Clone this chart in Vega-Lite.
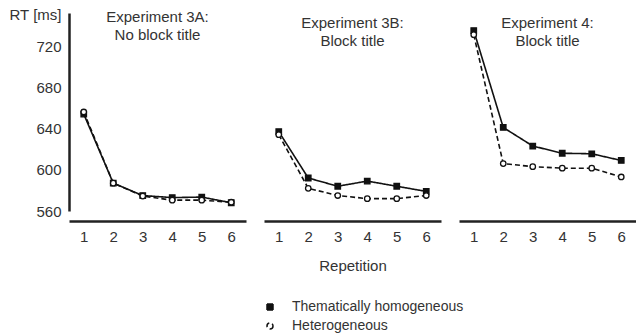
{
  "$schema": "https://vega.github.io/schema/vega-lite/v6.json",
  "padding": {"left": 8, "top": 7, "right": 0, "bottom": 0},
  "spacing": 18,
  "datasets": {
    "rt": [
      {"exp": "3A", "rep": 1, "condition": "Thematically homogeneous", "rt": 654},
      {"exp": "3A", "rep": 2, "condition": "Thematically homogeneous", "rt": 587},
      {"exp": "3A", "rep": 3, "condition": "Thematically homogeneous", "rt": 575},
      {"exp": "3A", "rep": 4, "condition": "Thematically homogeneous", "rt": 573},
      {"exp": "3A", "rep": 5, "condition": "Thematically homogeneous", "rt": 573.5},
      {"exp": "3A", "rep": 6, "condition": "Thematically homogeneous", "rt": 568},
      {"exp": "3A", "rep": 1, "condition": "Heterogeneous", "rt": 656},
      {"exp": "3A", "rep": 2, "condition": "Heterogeneous", "rt": 587},
      {"exp": "3A", "rep": 3, "condition": "Heterogeneous", "rt": 574.5},
      {"exp": "3A", "rep": 4, "condition": "Heterogeneous", "rt": 570.5},
      {"exp": "3A", "rep": 5, "condition": "Heterogeneous", "rt": 570.5},
      {"exp": "3A", "rep": 6, "condition": "Heterogeneous", "rt": 568.5},
      {"exp": "3B", "rep": 1, "condition": "Thematically homogeneous", "rt": 637},
      {"exp": "3B", "rep": 2, "condition": "Thematically homogeneous", "rt": 592},
      {"exp": "3B", "rep": 3, "condition": "Thematically homogeneous", "rt": 584},
      {"exp": "3B", "rep": 4, "condition": "Thematically homogeneous", "rt": 589},
      {"exp": "3B", "rep": 5, "condition": "Thematically homogeneous", "rt": 584},
      {"exp": "3B", "rep": 6, "condition": "Thematically homogeneous", "rt": 579},
      {"exp": "3B", "rep": 1, "condition": "Heterogeneous", "rt": 634},
      {"exp": "3B", "rep": 2, "condition": "Heterogeneous", "rt": 582},
      {"exp": "3B", "rep": 3, "condition": "Heterogeneous", "rt": 575},
      {"exp": "3B", "rep": 4, "condition": "Heterogeneous", "rt": 572},
      {"exp": "3B", "rep": 5, "condition": "Heterogeneous", "rt": 572},
      {"exp": "3B", "rep": 6, "condition": "Heterogeneous", "rt": 575},
      {"exp": "4", "rep": 1, "condition": "Thematically homogeneous", "rt": 735},
      {"exp": "4", "rep": 2, "condition": "Thematically homogeneous", "rt": 641},
      {"exp": "4", "rep": 3, "condition": "Thematically homogeneous", "rt": 623},
      {"exp": "4", "rep": 4, "condition": "Thematically homogeneous", "rt": 616},
      {"exp": "4", "rep": 5, "condition": "Thematically homogeneous", "rt": 615.5},
      {"exp": "4", "rep": 6, "condition": "Thematically homogeneous", "rt": 609},
      {"exp": "4", "rep": 1, "condition": "Heterogeneous", "rt": 731},
      {"exp": "4", "rep": 2, "condition": "Heterogeneous", "rt": 606},
      {"exp": "4", "rep": 3, "condition": "Heterogeneous", "rt": 603},
      {"exp": "4", "rep": 4, "condition": "Heterogeneous", "rt": 601.5},
      {"exp": "4", "rep": 5, "condition": "Heterogeneous", "rt": 601.5},
      {"exp": "4", "rep": 6, "condition": "Heterogeneous", "rt": 593}
    ]
  },
  "config": {
    "font": "Liberation Sans",
    "view": {"stroke": null},
    "axis": {
      "labelFontSize": 15, "labelColor": "#333", "domainColor": "#222", "domainWidth": 2.5,
      "ticks": false, "grid": false, "titleFontSize": 15, "titleFontWeight": "normal", "titleColor": "#333"
    },
    "title": {"fontSize": 15, "fontWeight": "normal", "color": "#333", "lineHeight": 18, "anchor": "middle", "offset": -36},
    "legend": {
      "labelFontSize": 14, "labelColor": "#333", "labelLimit": 0, "padding": 0, "title": null,
      "orient": "none", "legendX": 194, "legendY": 287, "symbolSize": 36, "labelOffset": 15, "rowPadding": 5,
      "symbolStrokeWidth": 1.5
    }
  },
  "hconcat": [
    {
      "width": 177, "height": 198,
      "data": {"name": "rt"},
      "transform": [{"filter": "datum.exp == '3A'"}],
      "title": {"text": ["Experiment 3A:", "No block title"]},
      "encoding": {
        "x": {"field": "rep", "type": "quantitative", "scale": {"domain": [0.5, 6.5]},
              "axis": {"values": [1, 2, 3, 4, 5, 6], "offset": 10, "labelPadding": 8, "title": null}},
        "y": {"field": "rt", "type": "quantitative", "scale": {"domain": [560, 752], "zero": false, "nice": false},
              "axis": {"values": [560, 600, 640, 680, 720], "title": "RT [ms]", "titleAngle": 0, "titleAlign": "right",
                       "titleBaseline": "middle", "titleX": -8, "titleY": 1, "labelPadding": 8}}
      },
      "layer": [
        {"mark": {"type": "line", "strokeWidth": 1.6, "color": "#111"},
         "encoding": {"strokeDash": {"field": "condition", "type": "nominal",
           "scale": {"domain": ["Thematically homogeneous", "Heterogeneous"], "range": [[1, 0], [5, 3]]}}}},
        {"mark": {"type": "point", "filled": true, "stroke": "#111", "strokeWidth": 1.3, "size": 30, "opacity": 1},
         "encoding": {
           "shape": {"field": "condition", "type": "nominal", "scale": {"domain": ["Thematically homogeneous", "Heterogeneous"], "range": ["square", "circle"]}},
           "fill": {"field": "condition", "type": "nominal", "scale": {"domain": ["Thematically homogeneous", "Heterogeneous"], "range": ["#111", "white"]}}
         }}
      ]
    },
    {
      "width": 177, "height": 198,
      "data": {"name": "rt"},
      "transform": [{"filter": "datum.exp == '3B'"}],
      "title": {"text": ["Experiment 3B:", "Block title"]},
      "encoding": {
        "x": {"field": "rep", "type": "quantitative", "scale": {"domain": [0.5, 6.5]},
              "axis": {"values": [1, 2, 3, 4, 5, 6], "offset": 10, "labelPadding": 8, "title": "Repetition", "titlePadding": 14}},
        "y": {"field": "rt", "type": "quantitative", "scale": {"domain": [560, 752], "zero": false, "nice": false}, "axis": null}
      },
      "layer": [
        {"mark": {"type": "line", "strokeWidth": 1.6, "color": "#111"},
         "encoding": {"strokeDash": {"field": "condition", "type": "nominal",
           "scale": {"domain": ["Thematically homogeneous", "Heterogeneous"], "range": [[1, 0], [5, 3]]}}}},
        {"mark": {"type": "point", "filled": true, "stroke": "#111", "strokeWidth": 1.3, "size": 30, "opacity": 1},
         "encoding": {
           "shape": {"field": "condition", "type": "nominal", "scale": {"domain": ["Thematically homogeneous", "Heterogeneous"], "range": ["square", "circle"]}},
           "fill": {"field": "condition", "type": "nominal", "scale": {"domain": ["Thematically homogeneous", "Heterogeneous"], "range": ["#111", "white"]}}
         }}
      ]
    },
    {
      "width": 177, "height": 198,
      "data": {"name": "rt"},
      "transform": [{"filter": "datum.exp == '4'"}],
      "title": {"text": ["Experiment 4:", "Block title"]},
      "encoding": {
        "x": {"field": "rep", "type": "quantitative", "scale": {"domain": [0.5, 6.5]},
              "axis": {"values": [1, 2, 3, 4, 5, 6], "offset": 10, "labelPadding": 8, "title": null}},
        "y": {"field": "rt", "type": "quantitative", "scale": {"domain": [560, 752], "zero": false, "nice": false}, "axis": null}
      },
      "layer": [
        {"mark": {"type": "line", "strokeWidth": 1.6, "color": "#111"},
         "encoding": {"strokeDash": {"field": "condition", "type": "nominal",
           "scale": {"domain": ["Thematically homogeneous", "Heterogeneous"], "range": [[1, 0], [5, 3]]}}}},
        {"mark": {"type": "point", "filled": true, "stroke": "#111", "strokeWidth": 1.3, "size": 30, "opacity": 1},
         "encoding": {
           "shape": {"field": "condition", "type": "nominal", "scale": {"domain": ["Thematically homogeneous", "Heterogeneous"], "range": ["square", "circle"]}},
           "fill": {"field": "condition", "type": "nominal", "scale": {"domain": ["Thematically homogeneous", "Heterogeneous"], "range": ["#111", "white"]}}
         }}
      ]
    }
  ]
}
